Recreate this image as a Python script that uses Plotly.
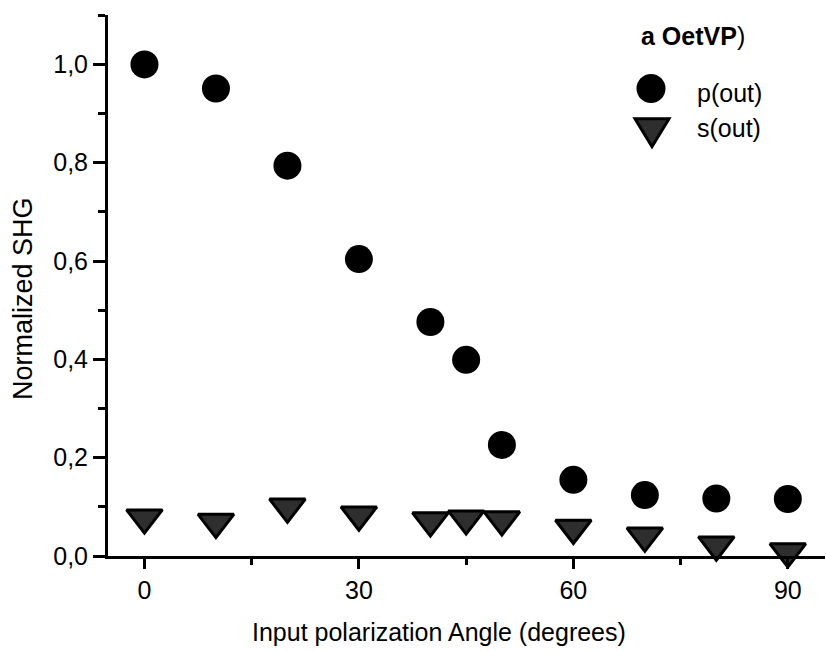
import plotly.graph_objects as go

# ---- data ----
angles = [0, 10, 20, 30, 40, 45, 50, 60, 70, 80, 90]
p_out = [1.000, 0.951, 0.794, 0.604, 0.476, 0.399, 0.226, 0.155, 0.124, 0.117, 0.116]
s_out = [0.078, 0.069, 0.100, 0.084, 0.072, 0.076, 0.074, 0.057, 0.041, 0.023, 0.009]

x_tick_vals = [0, 30, 60, 90]
y_tick_vals = [0.0, 0.2, 0.4, 0.6, 0.8, 1.0]

legend_title = "<b>a OetVP</b>)"
name_p = "p(out)"
name_s = "s(out)"
x_title = "Input polarization Angle (degrees)"
y_title = "Normalized SHG"

FONT = "Liberation Sans, Arial, sans-serif"
FS = 25
TRI_FILL = "#2e2e2e"

fig = go.Figure()
fig.add_trace(go.Scatter(
    x=angles, y=p_out, mode="markers", name=name_p, cliponaxis=False,
    marker=dict(symbol="circle", size=28, color="black", line=dict(width=0)),
    showlegend=False,
))
fig.add_trace(go.Scatter(
    x=angles, y=s_out, mode="markers", name=name_s, cliponaxis=False,
    marker=dict(symbol="triangle-down", size=31, color=TRI_FILL,
                line=dict(width=3, color="black")),
    showlegend=False,
))

L, T, B, R = 108, 15, 95, 1
W, H = 826, 651
pw, ph = W - L - R, H - T - B

def px(xp):
    return (xp - L) / pw

def py(yp):
    return (H - B - yp) / ph

# legend glyphs drawn as layout shapes (pixel sized, anchored in paper coords)
shapes = [
    dict(type="circle", xref="paper", yref="paper", xsizemode="pixel", ysizemode="pixel",
         xanchor=px(651), yanchor=py(88.5), x0=-14.5, x1=14.5, y0=-14.5, y1=14.5,
         fillcolor="black", line=dict(width=0)),
    dict(type="path", xref="paper", yref="paper", xsizemode="pixel", ysizemode="pixel",
         xanchor=px(652), yanchor=py(131.7),
         path="M -17,13 L 17,13 L 0,-15 Z",
         fillcolor=TRI_FILL, line=dict(width=3, color="black")),
]

annotations = [
    dict(text=legend_title, xref="paper", yref="paper", x=px(639), y=py(36),
         xanchor="left", yanchor="middle", showarrow=False,
         font=dict(family=FONT, size=FS, color="black")),
    dict(text=name_p, xref="paper", yref="paper", x=px(695), y=py(93),
         xanchor="left", yanchor="middle", showarrow=False,
         font=dict(family=FONT, size=FS, color="black")),
    dict(text=name_s, xref="paper", yref="paper", x=px(695), y=py(128),
         xanchor="left", yanchor="middle", showarrow=False,
         font=dict(family=FONT, size=FS, color="black")),
    # axis titles
    dict(text=x_title, xref="paper", yref="paper", x=px(439), y=py(632),
         xanchor="center", yanchor="middle", showarrow=False,
         font=dict(family=FONT, size=FS, color="black")),
    dict(text=y_title, xref="paper", yref="paper", x=px(23), y=py(299),
         xanchor="center", yanchor="middle", showarrow=False, textangle=-90,
         font=dict(family=FONT, size=27, color="black")),
]

fig.update_layout(
    width=W, height=H,
    margin=dict(l=L, r=R, t=T, b=B, pad=0),
    paper_bgcolor="white", plot_bgcolor="white",
    separators=",.",
    font=dict(family=FONT, size=FS, color="black"),
    shapes=shapes, annotations=annotations,
    showlegend=False,
)

fig.update_xaxes(
    range=[-5.1, 95.2], tickvals=x_tick_vals, ticks="outside", ticklen=10, tickwidth=3,
    tickcolor="black", showline=True, linecolor="black", linewidth=3, mirror=False,
    showgrid=False, zeroline=False, tickfont=dict(size=FS),
    minor=dict(tickvals=[15, 45, 75], ticks="outside", ticklen=6, tickwidth=3, tickcolor="black", showgrid=False),
)
fig.update_yaxes(
    range=[0, 1.1005], tickvals=y_tick_vals, tickformat=".1f", ticks="outside", ticklen=12, tickwidth=3,
    tickcolor="black", showline=True, linecolor="black", linewidth=3, mirror=False,
    showgrid=False, zeroline=False, tickfont=dict(size=FS),
    minor=dict(dtick=0.1, tick0=0, ticks="outside", ticklen=7, tickwidth=3, tickcolor="black", showgrid=False),
)

fig.write_html("out.html")
